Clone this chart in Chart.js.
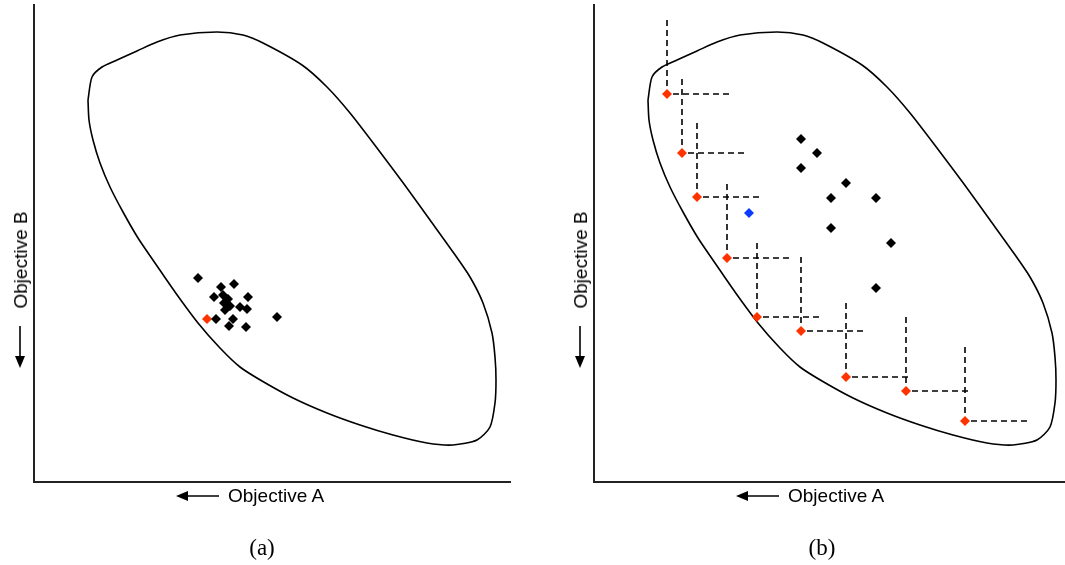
<!DOCTYPE html>
<html>
<head>
<meta charset="utf-8">
<script src="https://cdn.jsdelivr.net/npm/chart.js@4/dist/chart.umd.min.js"></script>
<style>
  body { margin: 0; background: #fff; width: 1065px; height: 565px; position: relative; overflow: hidden;
         font-family: "Liberation Sans", Arial, sans-serif; }
  canvas { position: absolute; top: 0; }
  #chartA { left: 0; }
  #chartB { left: 560px; }
  .lab { position: absolute; font-size: 19px; line-height: 22px; color: #000; white-space: nowrap; }
  .rot { transform: translate(-50%, -50%) rotate(-90deg); }
  .cap { position: absolute; font-family: "Liberation Serif", "DejaVu Serif", serif; font-size: 23px;
         line-height: 26px; transform: translateX(-50%); }
</style>
</head>
<body>
<canvas id="chartA" width="530" height="565"></canvas>
<canvas id="chartB" width="505" height="565"></canvas>

<div class="lab" style="left:228px; top:485px;">Objective A</div>
<div class="lab rot" style="left:21px; top:260px;">Objective B</div>
<div class="lab" style="left:788px; top:485px;">Objective A</div>
<div class="lab rot" style="left:581px; top:260px;">Objective B</div>
<div class="cap" style="left:262px; top:535px;">(a)</div>
<div class="cap" style="left:822px; top:535px;">(b)</div>

<script>
// feasible region outline (same shape in both panels)
const curveX = [54, 58, 68, 83, 103, 123, 146, 183, 209, 229, 268, 293, 316, 343, 370, 396, 419, 436, 449, 458, 461, 462,
                461, 456, 443, 419, 393, 359, 326, 293, 259, 228, 206, 186, 164, 141, 121, 104, 89, 76, 66, 59, 55, 54];
const curveY = [382, 405, 415, 422, 431, 440, 447, 450, 447, 439, 417, 395, 369, 334, 298, 262, 230, 205, 179, 149, 125, 102,
                79, 55, 42, 37, 39, 47, 57, 69, 84, 101, 115, 134, 159, 190, 219, 244, 270, 295, 319, 342, 362, 382];

// panel (a): converged population
const clusterX = [164, 187, 200, 180, 189, 194, 190, 214, 191, 196, 206, 213, 182, 199, 195, 212, 243];
const clusterY = [204, 195, 198, 185, 187, 183, 179, 185, 172, 176, 175, 173, 163, 163, 156, 155, 165];
const bestAX = [173];
const bestAY = [163];

// panel (b): spread-out front
const frontX = [73, 88, 103, 133, 163, 207, 252, 312, 371];
const frontY = [388, 329, 285, 224, 165, 151, 105, 91, 61];
const popX = [207, 223, 207, 252, 237, 282, 237, 297, 282];
const popY = [343, 329, 314, 299, 284, 284, 254, 239, 194];
const blueX = [155];
const blueY = [269];

// extent of the dashed dominance corners
const reachX = 66;
const reachY = 74;

const RED = '#ff3300';
const BLUE = '#0a3cff';

function pts(xs, ys) {
  return xs.map(function (x, i) { return { x: x, y: ys[i] }; });
}

function curveSet() {
  return {
    data: pts(curveX, curveY),
    showLine: true,
    borderColor: '#000',
    borderWidth: 1.6,
    tension: 0.25,
    pointRadius: 0,
    order: 3
  };
}

function dotSet(xs, ys, color) {
  return {
    data: pts(xs, ys),
    showLine: false,
    pointStyle: 'rectRot',
    pointRadius: 5,
    pointBackgroundColor: color,
    pointBorderWidth: 0,
    order: 0
  };
}

const arrowPlugin = {
  id: 'arrows',
  afterDraw(chart) {
    const ctx = chart.ctx, a = chart.chartArea;
    ctx.save();
    ctx.strokeStyle = '#000';
    ctx.fillStyle = '#000';
    ctx.lineWidth = 1.6;
    // horizontal arrow (pointing left)
    const hy = a.bottom + 14, tip = a.left + 142, tail = a.left + 185;
    ctx.beginPath(); ctx.moveTo(tail, hy); ctx.lineTo(tip + 8, hy); ctx.stroke();
    ctx.beginPath(); ctx.moveTo(tip, hy); ctx.lineTo(tip + 12, hy - 5); ctx.lineTo(tip + 12, hy + 5); ctx.closePath(); ctx.fill();
    // vertical arrow (pointing down)
    const vx = a.left - 14, vtop = a.top + 321, vtip = a.top + 363;
    ctx.beginPath(); ctx.moveTo(vx, vtop); ctx.lineTo(vx, vtip - 8); ctx.stroke();
    ctx.beginPath(); ctx.moveTo(vx, vtip); ctx.lineTo(vx - 5, vtip - 12); ctx.lineTo(vx + 5, vtip - 12); ctx.closePath(); ctx.fill();
    ctx.restore();
  }
};

function axis(max) {
  return {
    type: 'linear',
    min: 0,
    max: max,
    ticks: { display: false },
    grid: { display: false, drawTicks: false, tickLength: 0 },
    border: { display: true, color: '#222', width: 2 }
  };
}

function makeChart(id, datasets, xMax, padRight) {
  new Chart(document.getElementById(id), {
    type: 'scatter',
    data: { datasets: datasets },
    options: {
      responsive: false,
      animation: false,
      layout: { autoPadding: false, padding: { left: 34, top: 5, right: padRight, bottom: 83 } },
      plugins: { legend: { display: false }, tooltip: { enabled: false } },
      scales: { x: axis(xMax), y: axis(477) }
    },
    plugins: [arrowPlugin]
  });
}

// panel (a)
makeChart('chartA', [
  curveSet(),
  dotSet(clusterX, clusterY, '#000'),
  dotSet(bestAX, bestAY, RED)
], 476, 20);

// panel (b)
const dashSets = frontX.map(function (fx, i) {
  const fy = frontY[i];
  return {
    data: [{ x: fx, y: fy + reachY }, { x: fx, y: fy }, { x: fx + reachX, y: fy }],
    showLine: true,
    borderColor: '#000',
    borderWidth: 1.6,
    borderDash: [6, 4],
    pointRadius: 0,
    order: 2
  };
});

makeChart('chartB', [curveSet()].concat(dashSets, [
  dotSet(popX, popY, '#000'),
  dotSet(frontX, frontY, RED),
  dotSet(blueX, blueY, BLUE)
]), 471, 0);
</script>
</body>
</html>
